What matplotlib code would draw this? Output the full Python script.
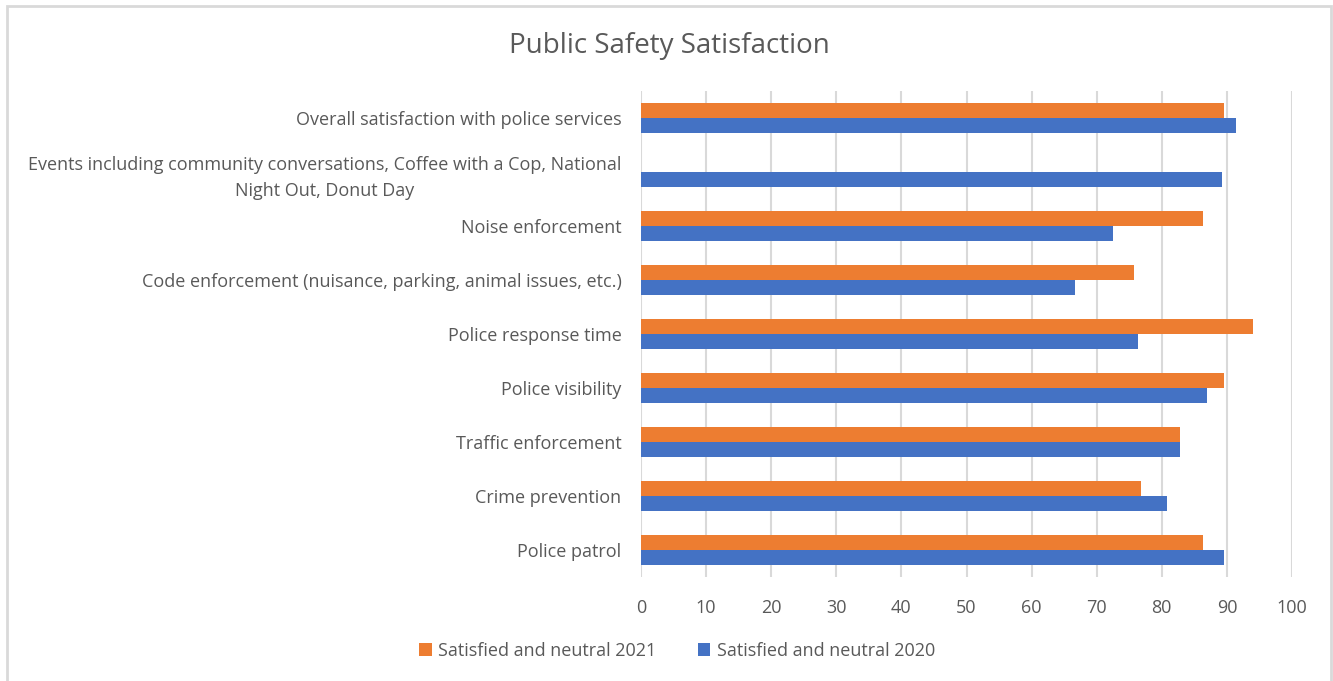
import matplotlib
matplotlib.use("Agg")
import matplotlib.pyplot as plt
from matplotlib.patches import Rectangle
import numpy as np

categories = [
    "Police patrol",
    "Crime prevention",
    "Traffic enforcement",
    "Police visibility",
    "Police response time",
    "Code enforcement (nuisance, parking, animal issues, etc.)",
    "Noise enforcement",
    "Events including community conversations, Coffee with a Cop, National\nNight Out, Donut Day",
    "Overall satisfaction with police services",
]
values_2021 = [86.3, 76.8, 82.8, 89.6, 94.0, 75.7, 86.4, np.nan, 89.5]
values_2020 = [89.6, 80.8, 82.8, 86.9, 76.4, 66.7, 72.5, 89.3, 91.4]
series_names = ["Satisfied and neutral 2021", "Satisfied and neutral 2020"]
xticks = [0, 10, 20, 30, 40, 50, 60, 70, 80, 90, 100]

ORANGE = "#ED7D31"
BLUE = "#4472C4"
TEXT = "#595959"
GRID = "#D9D9D9"

plt.rcParams['font.family'] = ['Open Sans', 'DejaVu Sans']

fig = plt.figure(figsize=(13.33, 6.81), dpi=100)
W, H = 1333, 681
ax = fig.add_axes([641 / W, (H - 577) / H, 651 / W, (577 - 91) / H])

y = np.arange(len(categories))
h = 0.278
ax.barh(y + h / 2, values_2021, height=h, color=ORANGE, label=series_names[0], zorder=3)
ax.barh(y - h / 2, values_2020, height=h, color=BLUE, label=series_names[1], zorder=3)

ax.set_xlim(0, 100)
ax.set_ylim(-0.5, len(categories) - 0.5)
ax.set_xticks(xticks)
ax.set_xticklabels([str(t) for t in xticks])
ax.set_yticks(y)
ax.set_yticklabels(categories, multialignment='center', linespacing=1.55)

ax.xaxis.grid(True, color=GRID, linewidth=1.5, zorder=0)
ax.yaxis.grid(False)
for s in ax.spines.values():
    s.set_visible(False)
ax.tick_params(axis='x', length=0, pad=16, labelsize=13, labelcolor=TEXT)
ax.tick_params(axis='y', length=0, pad=14, labelsize=13, labelcolor=TEXT)

fig.text(669 / W, 1 - 46 / H, "Public Safety Satisfaction", ha='center', va='center',
         fontsize=20, color=TEXT)

handles, labels = ax.get_legend_handles_labels()
leg = fig.legend(handles, labels, loc='center', bbox_to_anchor=(677 / W, 1 - 651 / H),
                 ncol=2, frameon=False, fontsize=13, handlelength=0.7, handleheight=0.7,
                 columnspacing=2.3, handletextpad=0.35)
for t in leg.get_texts():
    t.set_color(TEXT)

fig.patches.append(Rectangle((7 / W, -0.01), (1331 - 7) / W, 1 - 6 / H + 0.01,
                             transform=fig.transFigure, fill=False,
                             edgecolor=GRID, linewidth=2))

fig.savefig("out.png", dpi=100)
